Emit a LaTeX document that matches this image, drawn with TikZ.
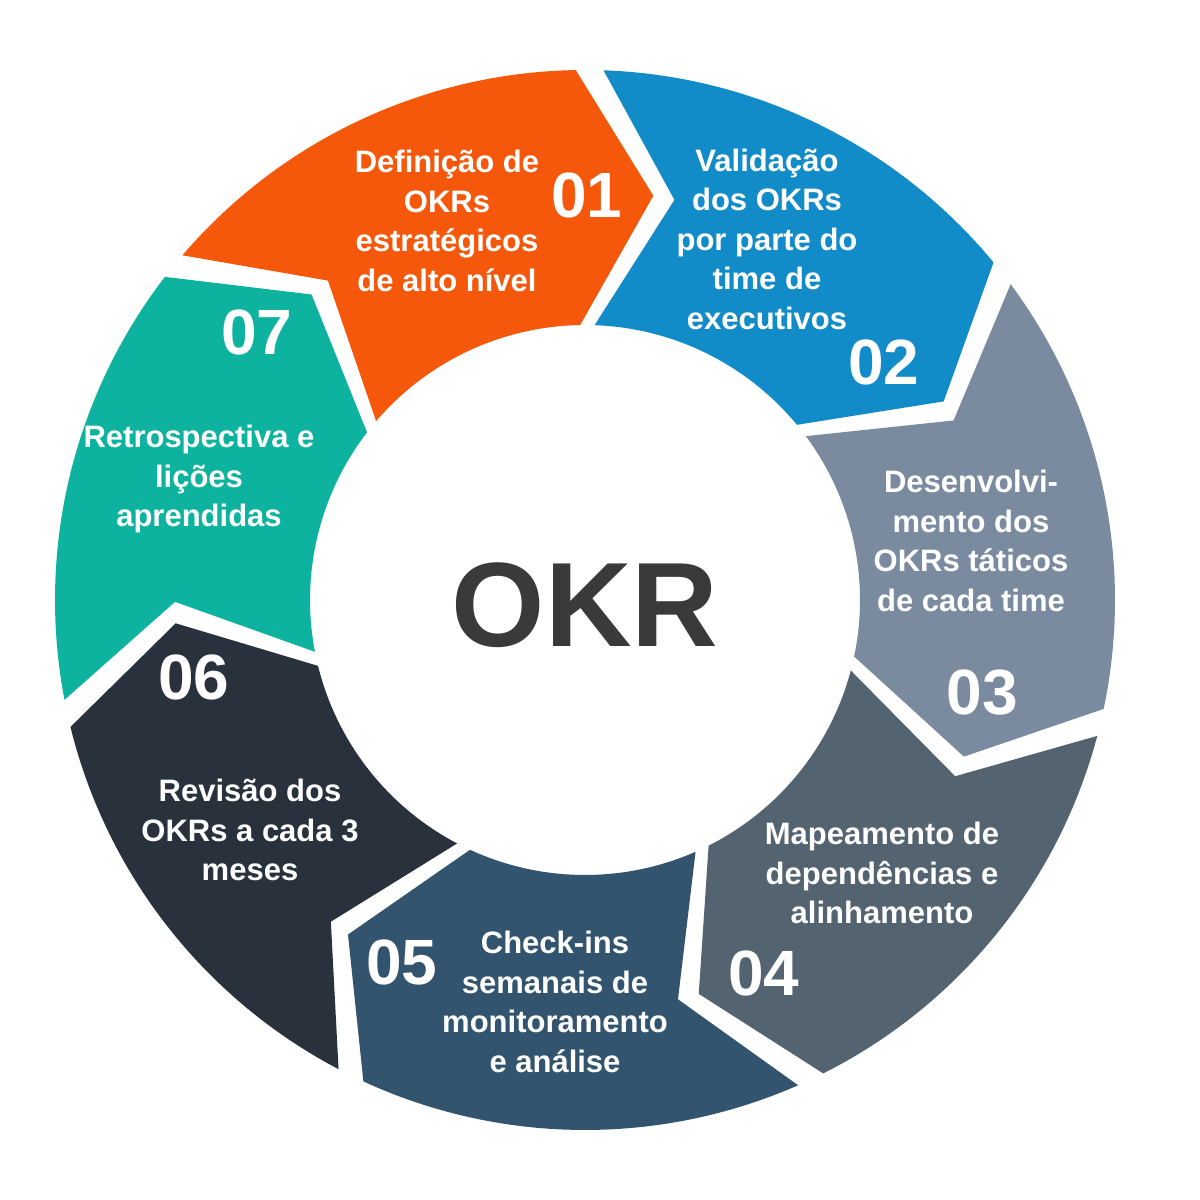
\documentclass[tikz,border=0pt]{standalone}
\usepackage{fontspec}
\setmainfont{Liberation Sans}
\usetikzlibrary{calc}
\definecolor{cA}{HTML}{F5580B}
\definecolor{cB}{HTML}{128BC9}
\definecolor{cC}{HTML}{7A8BA0}
\definecolor{cD}{HTML}{536370}
\definecolor{cE}{HTML}{33546E}
\definecolor{cF}{HTML}{29323C}
\definecolor{cG}{HTML}{0DB39E}
\definecolor{okrtxt}{HTML}{3A3A3A}
\newcommand{\okrseg}[2]{%
  \pgfmathsetmacro\sa{#1-1.5}%
  \pgfmathsetmacro\ea{#1-51.4286+1.5}%
  \pgfmathsetmacro\sn{\sa-\dl}%
  \pgfmathsetmacro\et{\ea-\dl}%
  \fill[#2] ($(C)+(\sa:\Ro)$) arc[start angle=\sa, end angle=\ea, radius=\Ro]
    -- ($(C)+(\et:\Rm)$) -- ($(C)+(\ea:\Ri)$)
    arc[start angle=\ea, end angle=\sa, radius=\Ri]
    -- ($(C)+(\sn:\Rm)$) -- cycle;}
\begin{document}
\begin{tikzpicture}[x=1pt,y=1pt,
  lbl/.style={text=white,font=\bfseries\fontsize{31}{39.5}\selectfont,align=center,inner sep=0pt},
  num/.style={text=white,font=\bfseries\fontsize{64}{64}\selectfont,inner sep=0pt}]
\useasboundingbox (0,0) rectangle (1200,1200);
\fill[white] (0,0) rectangle (1200,1200);
\coordinate (C) at (585,600);
\def\Ro{530pt}\def\Ri{275pt}\def\Rm{410pt}\def\dl{10.6}
\okrseg{140.93}{cA}
\okrseg{89.5}{cB}
\okrseg{38.07}{cC}
\okrseg{-13.36}{cD}
\okrseg{-64.79}{cE}
\okrseg{-116.21}{cF}
\okrseg{-167.64}{cG}
% center
\node[text=okrtxt,font=\bfseries\fontsize{120}{120}\selectfont,inner sep=0pt] (okr) at (585,595) {OKR};
% labels
\node[lbl] (t1) at (447,979) {Definição de\\OKRs\\estratégicos\\de alto nível};
\node[num] (n1) at (587,1005) {01};
\node[lbl] (t2) at (767,961) {Validação\\dos OKRs\\por parte do\\time de\\executivos};
\node[num] (n2) at (884,838) {02};
\node[lbl] (t3) at (971,659) {Desenvolvi-\\mento dos\\OKRs táticos\\de cada time};
\node[num] (n3) at (982,507) {03};
\node[lbl] (t4) at (882,327) {Mapeamento de\\dependências e\\alinhamento};
\node[num] (n4) at (764,227) {04};
\node[lbl] (t5) at (555,198) {Check-ins\\semanais de\\monitoramento\\e análise};
\node[num] (n5) at (402,238) {05};
\node[lbl] (t6) at (250,370) {Revisão dos\\OKRs a cada 3\\meses};
\node[num] (n6) at (194,523) {06};
\node[lbl] (t7) at (199,721) {Retrospectiva e\\lições\\aprendidas};
\node[num] (n7) at (257,868) {07};
\end{tikzpicture}
\end{document}
